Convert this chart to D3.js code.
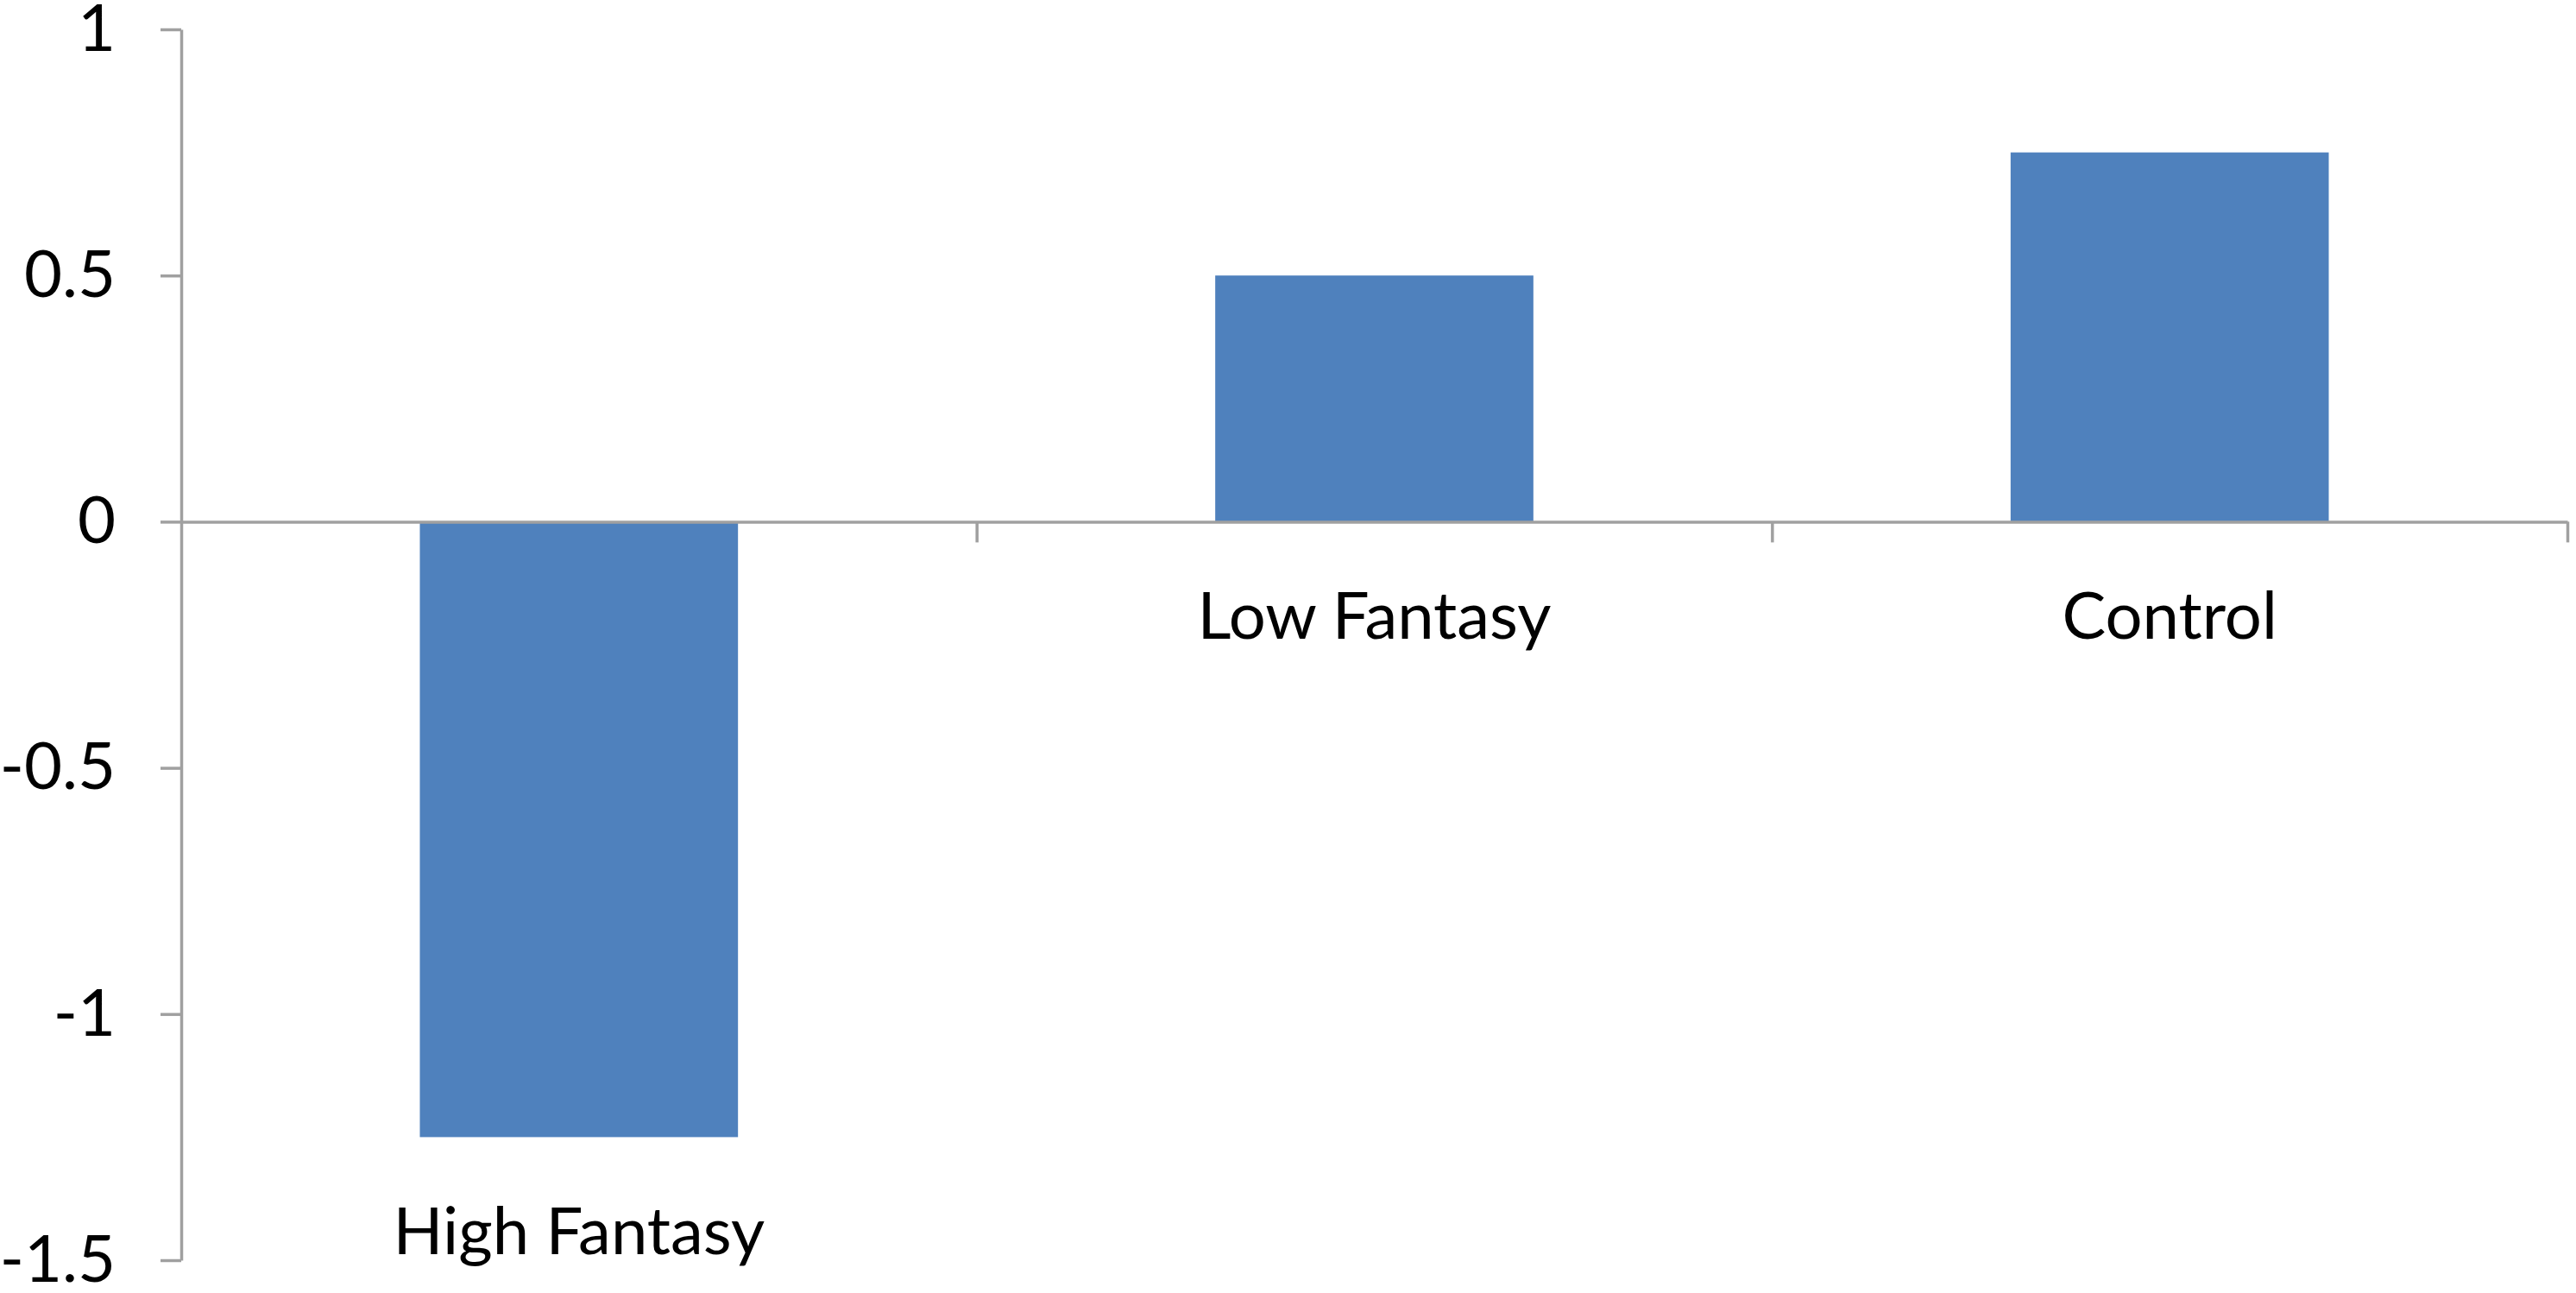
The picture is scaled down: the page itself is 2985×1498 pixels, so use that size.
<!DOCTYPE html>
<html>
<head>
<meta charset="utf-8">
<script src="https://cdn.jsdelivr.net/npm/d3@7"></script>
<style>
  html, body { margin: 0; padding: 0; background: #ffffff; }
  svg { display: block; }
  text { font-family: Lato, "Open Sans", sans-serif; fill: #000; }
</style>
</head>
<body>
<svg id="chart"></svg>
<script>
// chart values
const categories = ["High Fantasy", "Low Fantasy", "Control"];
const values = [-1.25, 0.5, 0.75];
const yTicks = [1, 0.5, 0, -0.5, -1, -1.5];

const width = 2985, height = 1498;
const margin = { top: 34, right: 10, bottom: 38, left: 210 };
const axisColor = "#a0a0a0";
const barColor = "#4f81bd";
const fontSize = 76;

const svg = d3.select("#chart")
  .attr("width", width)
  .attr("height", height);

const y = d3.scaleLinear()
  .domain([-1.5, 1])
  .range([height - margin.bottom, margin.top]);

const x = d3.scaleBand()
  .domain(categories)
  .range([margin.left, width - margin.right])
  .paddingInner(0.6)
  .paddingOuter(0.3);

// bars
svg.append("g")
  .selectAll("rect")
  .data(values)
  .enter().append("rect")
  .attr("x", (d, i) => x(categories[i]))
  .attr("width", x.bandwidth())
  .attr("y", d => y(Math.max(0, d)))
  .attr("height", d => Math.abs(y(d) - y(0)))
  .attr("fill", barColor);

// y axis
const yAxis = svg.append("g")
  .attr("transform", `translate(${margin.left},0)`)
  .call(d3.axisLeft(y)
    .tickValues(yTicks)
    .tickSize(24)
    .tickSizeOuter(0)
    .tickPadding(52)
    .tickFormat(d => String(d)));
yAxis.selectAll("path, line").attr("stroke", axisColor).attr("stroke-width", 3.5);
yAxis.selectAll("text")
  .style("font-family", "Lato, sans-serif")
  .style("font-size", fontSize + "px")
  .attr("fill", "#000");

// x axis: ticks sit on band boundaries
const xb = d3.scaleLinear()
  .domain([0, categories.length])
  .range([margin.left, width - margin.right]);
const xAxis = svg.append("g")
  .attr("transform", `translate(0,${y(0)})`)
  .call(d3.axisBottom(xb)
    .tickValues(d3.range(1, categories.length + 1))
    .tickSize(24)
    .tickSizeOuter(0)
    .tickFormat(""));
xAxis.selectAll("path, line").attr("stroke", axisColor).attr("stroke-width", 3.5);

// category labels: below axis, or below the bar when it is negative
svg.append("g")
  .selectAll("text")
  .data(categories)
  .enter().append("text")
  .attr("x", d => x(d) + x.bandwidth() / 2)
  .attr("y", (d, i) => Math.max(y(0), y(values[i])) + 136)
  .attr("text-anchor", "middle")
  .style("font-size", fontSize + "px")
  .text(d => d);
</script>
</body>
</html>
